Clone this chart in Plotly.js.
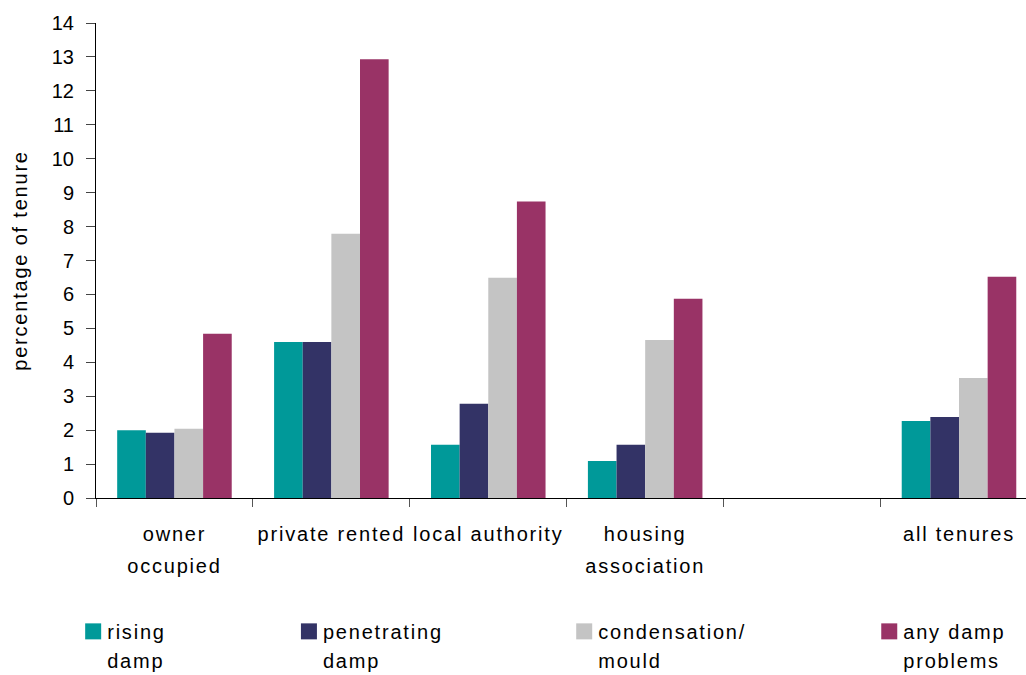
<!DOCTYPE html>
<html>
<head>
<meta charset="utf-8">
<script src="https://cdn.plot.ly/plotly-3.0.1.min.js"></script>
<style>
html,body{margin:0;padding:0;background:#fff;}
#chart{width:1026px;height:675px;}
#chart .xtick text, #chart .legendtext, #chart .legend2text, #chart .legend3text, #chart .legend4text, #chart .ytitle { letter-spacing: 1.8px; }
#chart .infolayer g.legend, #chart .infolayer g.legend *,
#chart .infolayer g.legend2, #chart .infolayer g.legend2 *,
#chart .infolayer g.legend3, #chart .infolayer g.legend3 *,
#chart .infolayer g.legend4, #chart .infolayer g.legend4 * { clip-path: none !important; }
</style>
</head>
<body>
<div id="chart"></div>
<script>
const categories = ["owner<br>occupied", "private rented", "local authority", "housing<br>association", " ", "all tenures"];
const seriesNames = ["rising<br>damp", "penetrating<br>damp", "condensation/<br>mould", "any damp<br>problems"];
const risingDamp      = [2.0, 4.6, 1.57, 1.09, null, 2.27];
const penetratingDamp = [1.92, 4.6, 2.78, 1.57, null, 2.39];
const condensation    = [2.04, 7.79, 6.49, 4.66, null, 3.54];
const anyDamp         = [4.84, 12.93, 8.74, 5.87, null, 6.52];
const yTicks = [0,1,2,3,4,5,6,7,8,9,10,11,12,13,14];

const colors = ["#009999", "#333366", "#C4C4C4", "#993366"];
const values = [risingDamp, penetratingDamp, condensation, anyDamp];
const legendIds = ["legend", "legend2", "legend3", "legend4"];
const legendX = [-0.031, 0.201, 0.497, 0.825];

const font = {family: "Liberation Sans, Arial, sans-serif", size: 20, color: "#000"};

const traces = values.map((v, i) => ({
  type: "bar",
  name: seriesNames[i],
  x: categories,
  y: v,
  marker: {color: colors[i], line: {width: 0}},
  legend: legendIds[i],
  hoverinfo: "skip"
}));

const layout = {
  width: 1026, height: 675,
  margin: {l: 96, r: 0, t: 23, b: 177, autoexpand: false},
  paper_bgcolor: "#fff", plot_bgcolor: "#fff",
  font: font,
  barmode: "group",
  bargap: 0.27,
  bargroupgap: 0,
  showlegend: true,
  xaxis: {
    type: "category",
    categoryorder: "array",
    categoryarray: categories,
    range: [-0.5, 5.427],
    showgrid: false,
    zeroline: false,
    automargin: false,
    showline: true, linecolor: "#000", linewidth: 1,
    ticks: "outside", ticklen: 8, tickcolor: "#555", tickwidth: 1,
    tickson: "boundaries",
    tickfont: font,
    ticklabelstandoff: 18,
    fixedrange: true
  },
  yaxis: {
    range: [0, 14],
    tickvals: yTicks,
    ticktext: yTicks.map(String),
    showgrid: false,
    zeroline: false,
    automargin: false,
    showline: true, linecolor: "#000", linewidth: 1,
    ticks: "outside", ticklen: 9, tickcolor: "#444", tickwidth: 1,
    tickfont: font,
    ticklabelstandoff: 8,
    title: {text: "percentage of tenure", font: font, standoff: 18},
    fixedrange: true
  }
};
legendIds.forEach((id, i) => {
  layout[id] = {
    x: legendX[i], xanchor: "left",
    y: -0.2397, yanchor: "top",
    orientation: "v",
    valign: "top",
    bgcolor: "rgba(0,0,0,0)",
    borderwidth: 0,
    font: font,
    itemclick: false, itemdoubleclick: false
  };
});

function touchUp() {
  const gd = document.getElementById("chart");
  gd.querySelectorAll(".legendpoints path").forEach(p => {
    p.setAttribute("d", "M14,8H-2V-8H14Z");
  });
  gd.querySelectorAll(".xtick text").forEach(t => {
    t.querySelectorAll("tspan.line").forEach((s, k) => { if (k > 0) s.setAttribute("dy", "1.6em"); });
  });
  gd.querySelectorAll(".legendtext, .legend2text, .legend3text, .legend4text").forEach(t => {
    t.querySelectorAll("tspan.line").forEach((s, k) => { if (k > 0) s.setAttribute("dy", "1.45em"); });
  });
  gd.querySelectorAll(".infolayer [class^='legend'] [clip-path]").forEach(n => n.removeAttribute("clip-path"));
}

Plotly.newPlot("chart", traces, layout, {displayModeBar: false, staticPlot: true}).then(() => {
  touchUp();
  setTimeout(touchUp, 50);
  setTimeout(touchUp, 300);
});
</script>
</body>
</html>
